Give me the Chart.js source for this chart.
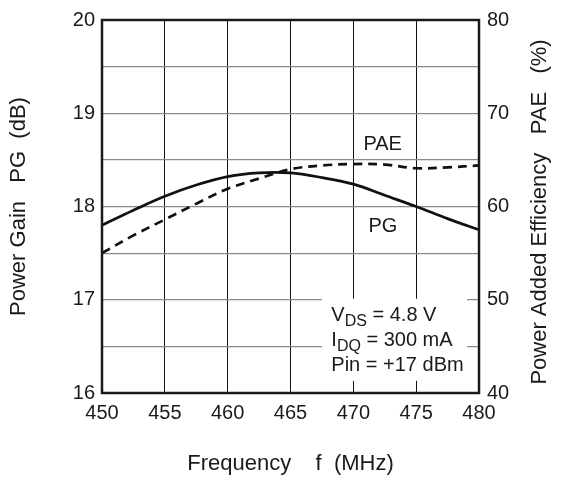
<!DOCTYPE html>
<html>
<head>
<meta charset="utf-8">
<script src="https://cdn.jsdelivr.net/npm/chart.js@4.4.1/dist/chart.umd.min.js"></script>
<style>
  html, body { margin: 0; padding: 0; background: #fff; }
  #wrap { width: 563px; height: 479px; position: relative; }
</style>
</head>
<body>
<div id="wrap"><canvas id="c" width="563" height="479"></canvas></div>
<script>
// ---- data ----
const freqMHz   = [450, 452.5, 455, 457.5, 460, 462.5, 465, 467.5, 470, 472.5, 475, 477.5, 480];
const pgDB      = [17.80, 17.96, 18.11, 18.23, 18.32, 18.36, 18.36, 18.31, 18.24, 18.12, 18.00, 17.87, 17.75];
const paePct    = [55.0, 56.9, 58.6, 60.3, 61.9, 63.0, 64.0, 64.4, 64.55, 64.5, 64.1, 64.2, 64.4];
const xTicks    = [450, 455, 460, 465, 470, 475, 480];
const pgTicks   = [16, 17, 18, 19, 20];
const paeTicks  = [40, 50, 60, 70, 80];
const conditionLines = [
  ["V", "DS", " = 4.8 V"],
  ["I", "DQ", " = 300 mA"],
  ["Pin = +17 dBm", "", ""]
];
const xTitle  = 'Frequency    f  (MHz)';
const yTitle  = 'Power Gain   PG  (dB)';
const y2Title = 'Power Added Efficiency   PAE   (%)';

const FONT = '"Liberation Sans", Arial, sans-serif';
const TXT = '#1a1a1a';

const overlay = {
  id: 'overlay',
  beforeDatasetsDraw(chart) {
    const ctx = chart.ctx;
    const x = chart.scales.x, y = chart.scales.y;
    // white box behind operating conditions
    const bx0 = x.getPixelForValue(467.5), bx1 = x.getPixelForValue(479.05);
    const by0 = y.getPixelForValue(17.01), by1 = y.getPixelForValue(16.13);
    ctx.save();
    ctx.fillStyle = '#fff';
    ctx.fillRect(bx0, by0, bx1 - bx0, by1 - by0);
    ctx.restore();
  },
  afterDatasetsDraw(chart) {
    const ctx = chart.ctx;
    const a = chart.chartArea;
    const x = chart.scales.x, y = chart.scales.y;
    ctx.save();
    // frame
    ctx.strokeStyle = '#1a1a1a';
    ctx.lineWidth = 2.5;
    ctx.strokeRect(a.left, a.top, a.right - a.left, a.bottom - a.top);
    // curve labels
    ctx.fillStyle = TXT;
    ctx.font = '20px ' + FONT;
    ctx.textBaseline = 'alphabetic';
    ctx.textAlign = 'left';
    ctx.fillText('PAE', x.getPixelForValue(470.8), y.getPixelForValue(20 - (147 - 16) / 94.25));
    ctx.fillText('PG', x.getPixelForValue(471.2), y.getPixelForValue(20 - (230 - 16) / 94.25));
    // operating conditions
    const tx = x.getPixelForValue(468.25);
    const base0 = y.getPixelForValue(20 - (320 - 16) / 94.25);
    const lh = 25;
    conditionLines.forEach((ln, i) => {
      let cx = tx;
      const by = base0 + i * lh;
      ctx.font = '20px ' + FONT;
      ctx.fillText(ln[0], cx, by);
      cx += ctx.measureText(ln[0]).width;
      if (ln[1]) {
        ctx.font = '16px ' + FONT;
        ctx.fillText(ln[1], cx, by + 5);
        cx += ctx.measureText(ln[1]).width;
      }
      if (ln[2]) {
        ctx.font = '20px ' + FONT;
        ctx.fillText(ln[2], cx, by);
      }
    });
    // right axis title (reads bottom to top)
    ctx.translate(540, 212);
    ctx.rotate(-Math.PI / 2);
    ctx.font = '22px ' + FONT;
    ctx.textAlign = 'center';
    ctx.textBaseline = 'middle';
    ctx.fillText(y2Title, 0, 0);
    ctx.restore();
  }
};

new Chart(document.getElementById('c'), {
  type: 'line',
  data: {
    datasets: [
      {
        label: 'PG',
        data: freqMHz.map((f, i) => ({ x: f, y: pgDB[i] })),
        yAxisID: 'y',
        borderColor: '#111',
        borderWidth: 2.7,
        pointRadius: 0,
        tension: 0.35,
        fill: false
      },
      {
        label: 'PAE',
        data: freqMHz.map((f, i) => ({ x: f, y: paePct[i] })),
        yAxisID: 'y2',
        borderColor: '#111',
        borderWidth: 2.7,
        borderDash: [9, 6],
        pointRadius: 0,
        tension: 0.35,
        fill: false
      }
    ]
  },
  options: {
    responsive: false,
    animation: false,
    devicePixelRatio: 1,
    layout: { padding: { top: 16, left: 0, right: 0, bottom: 0 } },
    plugins: { legend: { display: false }, tooltip: { enabled: false } },
    scales: {
      x: {
        type: 'linear',
        min: 450, max: 480,
        afterBuildTicks(s) { s.ticks = xTicks.map(v => ({ value: v })); },
        afterFit(s) { s.height = 86; },
        grid: { color: '#111', lineWidth: 1, drawTicks: false },
        border: { display: false },
        ticks: { padding: 8, color: TXT, font: { family: FONT, size: 20 }, maxRotation: 0 },
        title: { display: true, text: xTitle, color: TXT, font: { family: FONT, size: 22 }, padding: { top: 0, bottom: 1.8 } }
      },
      y: {
        type: 'linear',
        position: 'left',
        min: 16, max: 20,
        ticks: {
          stepSize: 0.5,
          padding: 7,
          color: TXT,
          font: { family: FONT, size: 20 },
          callback: v => pgTicks.includes(v) ? String(v) : ''
        },
        afterFit(s) { s.width = 102; },
        grid: { color: '#8a8a8a', lineWidth: 1.2, drawTicks: false },
        border: { display: false },
        title: { display: true, text: yTitle, color: TXT, font: { family: FONT, size: 22 }, padding: { top: 5.8, bottom: 0 } }
      },
      y2: {
        type: 'linear',
        position: 'right',
        min: 40, max: 80,
        afterBuildTicks(s) { s.ticks = paeTicks.map(v => ({ value: v })); },
        ticks: { padding: 8, color: TXT, font: { family: FONT, size: 20 } },
        afterFit(s) { s.width = 84; },
        grid: { display: false, drawTicks: false },
        border: { display: false },
        title: { display: false }
      }
    }
  },
  plugins: [overlay]
});
</script>
</body>
</html>
